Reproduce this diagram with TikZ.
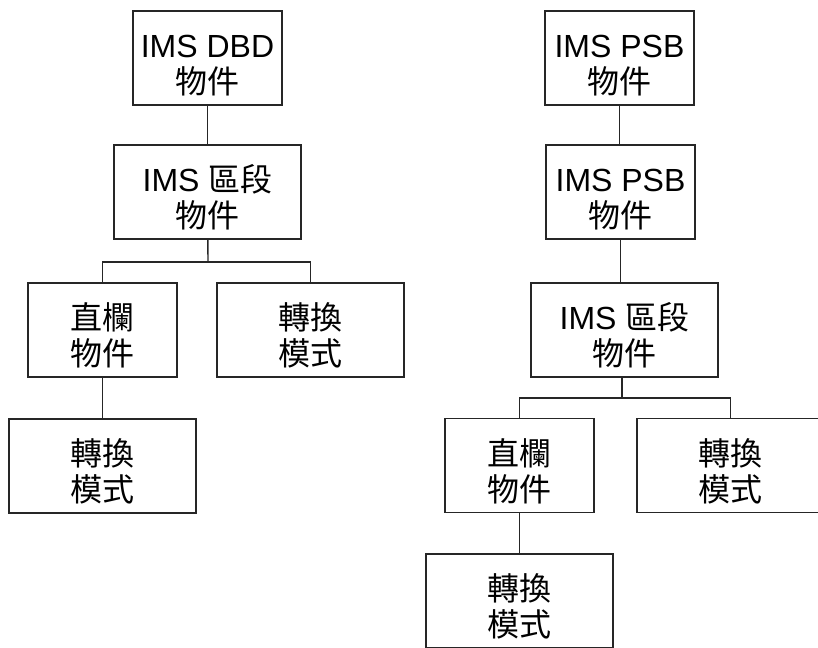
\documentclass[tikz,border=0pt]{standalone}
\usepackage{fontspec}
\setmainfont{Liberation Sans}
\newfontfamily\cjkfont{Noto Sans CJK TC}
\newcommand{\zhtext}[1]{{\cjkfont #1}}
\newcommand{\twolines}[2]{\rule{0pt}{19pt}#1\\#2}
\tikzset{
  box/.style={draw=black!85, line width=0.7pt, fill=white, align=center, inner sep=0pt,
    minimum height=47pt, font=\fontsize{16}{18}\selectfont},
  narrow/.style={box, minimum width=74.5pt},
  wide/.style={box, minimum width=93.5pt},
  link/.style={draw=black!85, line width=0.7pt}
}
\begin{document}
\begin{tikzpicture}[x=0.5pt, y=-0.5pt]
    \useasboundingbox (0,0) rectangle (818,647);
    \clip (0,0) rectangle (818,647);
    \node[narrow] (dbd) at (207.5,58) {\twolines{IMS DBD}{\zhtext{物件}}};
    \node[wide] (segL) at (207.5,192) {\twolines{IMS \zhtext{區段}}{\zhtext{物件}}};
    \node[narrow] (colL) at (102.5,330) {\twolines{\zhtext{直欄}}{\zhtext{物件}}};
    \node[wide] (convL) at (310.5,330) {\twolines{\zhtext{轉換}}{\zhtext{模式}}};
    \node[wide] (convLL) at (102.5,466) {\twolines{\zhtext{轉換}}{\zhtext{模式}}};
    \coordinate (forkL) at (208,262);
    \draw[link] (dbd) -- (segL);
    \draw[link] (segL) -- (forkL);
    \draw[link] (colL.north) |- (forkL) -| (convL.north);
    \draw[link] (colL) -- (convLL);
    \node[narrow] (psbA) at (619.5,58) {\twolines{IMS PSB}{\zhtext{物件}}};
    \node[narrow] (psbB) at (620.5,192) {\twolines{IMS PSB}{\zhtext{物件}}};
    \node[wide] (segR) at (624.5,330) {\twolines{IMS \zhtext{區段}}{\zhtext{物件}}};
    \node[narrow] (colR) at (519.5,465.5) {\twolines{\zhtext{直欄}}{\zhtext{物件}}};
    \node[wide] (convR) at (730.5,465.5) {\twolines{\zhtext{轉換}}{\zhtext{模式}}};
    \node[wide] (convRR) at (519.5,601) {\twolines{\zhtext{轉換}}{\zhtext{模式}}};
    \coordinate (forkR) at (622,398);
    \draw[link] (psbA.south) -- (psbA.south |- psbB.north);
    \draw[link] (psbB.south) -- (psbB.south |- segR.north);
    \draw[link] (segR.south -| forkR) -- (forkR);
    \draw[link] (colR.north) |- (forkR) -| (convR.north);
    \draw[link] (colR) -- (convRR);
\end{tikzpicture}
\end{document}
